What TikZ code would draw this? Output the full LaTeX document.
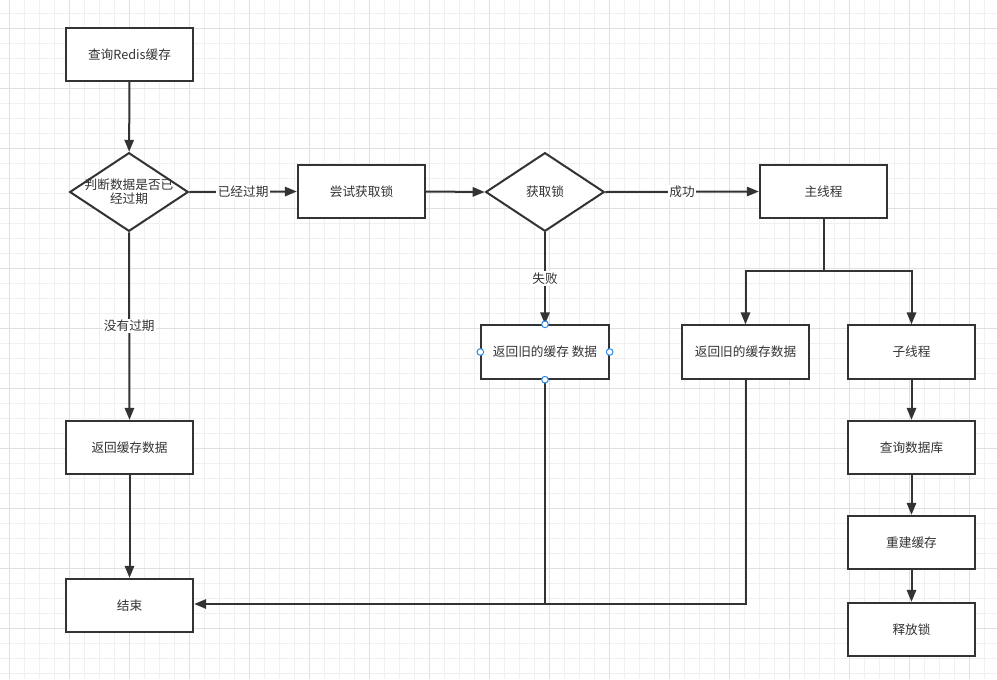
\documentclass[tikz,border=0pt]{standalone}
\usepackage{fontspec}
\setmainfont{Noto Sans CJK SC}
\usetikzlibrary{shapes.geometric,arrows.meta}
\definecolor{gridlight}{RGB}{240,240,240}
\definecolor{griddark}{RGB}{224,224,224}
\definecolor{ink}{RGB}{51,51,51}
\definecolor{handle}{RGB}{41,137,232}
\tikzset{
  box/.style={draw=ink, line width=1.5pt, fill=white, rectangle, minimum width=95.5pt, minimum height=40pt, inner sep=0pt, font=\fontsize{9.5}{11.5}\selectfont, text=ink},
  dia/.style={draw=ink, line width=1.5pt, fill=white, diamond, minimum width=89pt, minimum height=59pt, inner sep=0pt},
  diatext/.style={font=\fontsize{9.5}{11.5}\selectfont, text=ink, align=center},
  conn/.style={draw=ink, line width=1.5pt, -{Triangle[length=9pt,width=7pt]}},
  plain/.style={draw=ink, line width=1.5pt},
  lbl/.style={fill=white, inner sep=1pt, font=\fontsize{9.5}{11.5}\selectfont, text=ink},
  hdl/.style={draw=handle, line width=0.75pt, fill=white, circle, inner sep=0pt, minimum size=5pt},
}
\begin{document}
\begin{tikzpicture}[x=0.75pt,y=-0.75pt]
\useasboundingbox[fill=white] (0,0) rectangle (997,679);
% grid
\foreach \x in {9,24,...,996} \draw[gridlight, line width=0.75pt] (\x,0) -- (\x,679);
\foreach \y in {13,28,...,678} \draw[gridlight, line width=0.75pt] (0,\y) -- (997,\y);
\foreach \x in {9,69,...,996} \draw[griddark, line width=0.75pt] (\x,0) -- (\x,679);
\foreach \y in {28,88,...,678} \draw[griddark, line width=0.75pt] (0,\y) -- (997,\y);

% nodes
\node[box] (redis) at (129.5,54.5) {查询Redis缓存};
\node[dia] (judge) at (129,192) {};
\node[diatext] (judget) at (judge.center) {判断数据是否已\\[-1pt]经过期};
\node[box] (trylock) at (361.5,191.5) {尝试获取锁};
\node[dia] (getlock) at (545,192) {};
\node[diatext] (getlockt) at (getlock.center) {获取锁};
\node[box] (main) at (823.5,191.5) {主线程};
\node[box] (oldA) at (545,352) {返回旧的缓存 数据};
\node[box] (oldB) at (745.5,352) {返回旧的缓存数据};
\node[box] (child) at (911.5,352) {子线程};
\node[box] (querydb) at (911.5,447.5) {查询数据库};
\node[box] (rebuild) at (911.5,542.5) {重建缓存};
\node[box] (release) at (911.5,629.5) {释放锁};
\node[box] (retcache) at (129.5,447.5) {返回缓存数据};
\node[box] (end) at (129.5,605.5) {结束};

\coordinate (split) at (823.5,271);
\coordinate (joinA) at (545,604);
\coordinate (joinB) at (745.5,604);

% connectors
\draw[conn] (redis) -- (judge);
\draw[conn] (judge.east) -- node[lbl] {已经过期} (trylock.west);
\draw[conn] (judge.south) -- node[lbl, pos=0.5] {没有过期} (retcache.north);
\draw[conn] (retcache) -- (end);
\draw[conn] (trylock.east) -- (getlock.west);
\draw[conn] (getlock.east) -- node[lbl, pos=0.5] {成功} (main.west);
\draw[conn] (getlock.south) -- node[lbl, pos=0.5] {失败} (oldA.north);
\draw[plain] (main.south) -- (split);
\draw[conn] (split) -| (oldB.north);
\draw[conn] (split) -| (child.north);
\draw[conn] (child) -- (querydb);
\draw[conn] (querydb) -- (rebuild);
\draw[conn] (rebuild) -- (release);
\draw[conn] (oldA.south) -- (joinA) -- (end.east |- joinA);
\draw[plain] (oldB.south) -- (joinB) -- (joinA);

% selection handles
\node[hdl] (h1) at (oldA.north) {};
\node[hdl] (h2) at (oldA.south) {};
\node[hdl] (h3) at (oldA.west) {};
\node[hdl] (h4) at (oldA.east) {};
\end{tikzpicture}
\end{document}
